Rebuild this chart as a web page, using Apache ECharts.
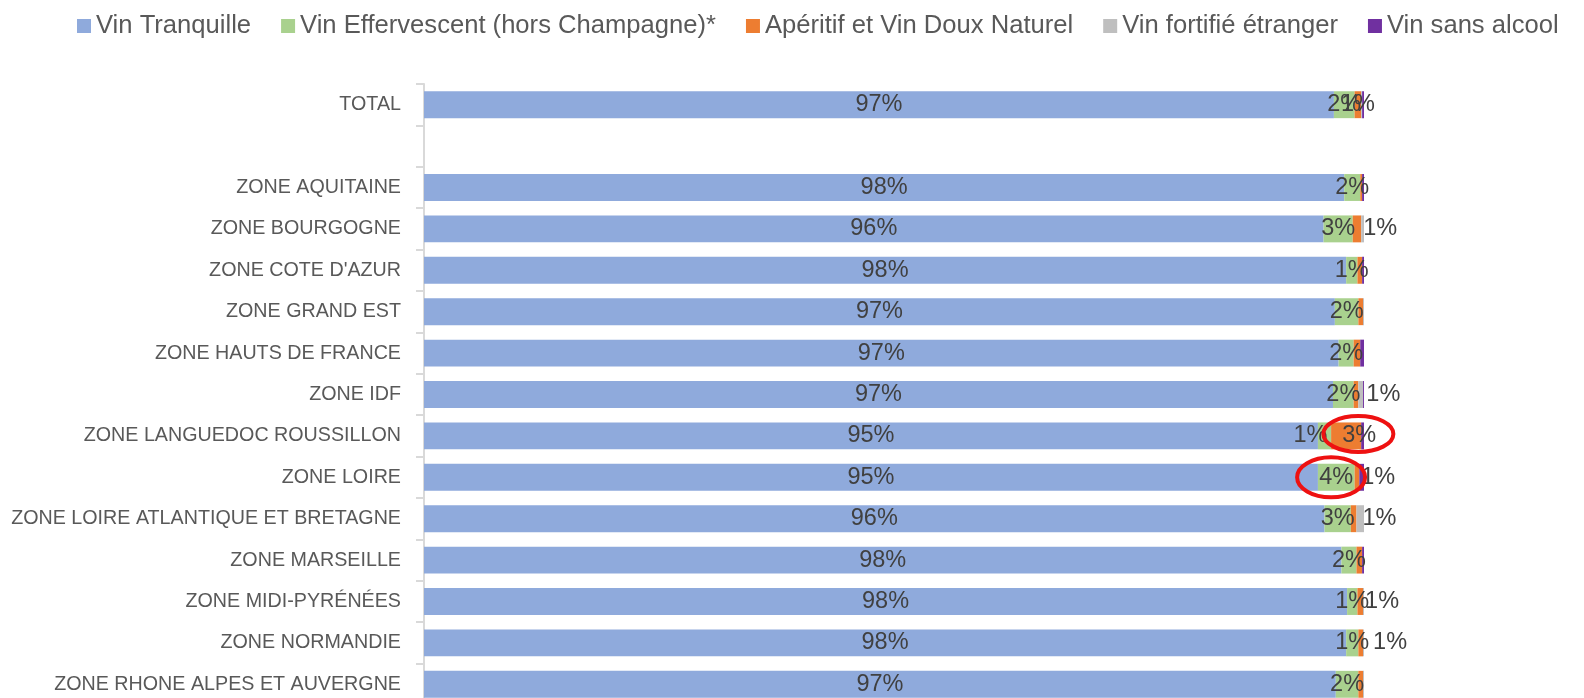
<!DOCTYPE html>
<html>
<head>
<meta charset="utf-8">
<script src="https://cdn.jsdelivr.net/npm/echarts@6/dist/echarts.min.js"></script>
<style>
html,body{margin:0;padding:0;background:#fff;}
#c{width:1584px;height:698px;}
</style>
</head>
<body>
<div id="c"></div>
<script>
// ---- DATA ----
const categories = ['TOTAL', '', 'ZONE AQUITAINE', 'ZONE BOURGOGNE', "ZONE COTE D'AZUR", 'ZONE GRAND EST',
  'ZONE HAUTS DE FRANCE', 'ZONE IDF', 'ZONE LANGUEDOC ROUSSILLON', 'ZONE LOIRE',
  'ZONE LOIRE ATLANTIQUE ET BRETAGNE', 'ZONE MARSEILLE', 'ZONE MIDI-PYRÉNÉES', 'ZONE NORMANDIE',
  'ZONE RHONE ALPES ET AUVERGNE'];
const seriesNames = ['Vin Tranquille', 'Vin Effervescent (hors Champagne)*', 'Apéritif et Vin Doux Naturel',
  'Vin fortifié étranger', 'Vin sans alcool'];
const tranquille   = [96.8, null, 97.9, 95.7, 98.1, 96.9, 97.3, 96.7, 95.1, 95.1, 95.8, 97.6, 98.2, 98.1, 97.0];
const effervescent = [2.2, null, 1.7, 3.1, 1.2, 2.5, 1.6, 2.2, 1.4, 3.9, 2.8, 1.6, 1.1, 1.3, 2.4];
const aperitif     = [0.7, null, 0.2, 0.9, 0.5, 0.5, 0.7, 0.5, 3.2, 0.5, 0.6, 0.6, 0.6, 0.5, 0.5];
const fortifie     = [0.1, null, 0.0, 0.3, 0.0, 0.1, 0.0, 0.5, 0.0, 0.0, 0.8, 0.0, 0.1, 0.1, 0.1];
const sansAlcool   = [0.2, null, 0.2, 0.0, 0.2, 0.0, 0.4, 0.1, 0.3, 0.5, 0.0, 0.2, 0.0, 0.0, 0.0];
// data label texts as shown in the picture
const tranquilleLabels   = ['97%', '', '98%', '96%', '98%', '97%', '97%', '97%', '95%', '95%', '96%', '98%', '98%', '98%', '97%'];
const effervescentLabels = ['2%', '', '2%', '3%', '1%', '2%', '2%', '2%', '1%', '4%', '3%', '2%', '1%', '1%', '2%'];
const aperitifLabels     = ['1%', '', '', '1%', '', '', '', '1%', '3%', '1%', '1%', '', '1%', '1%', ''];
const fortifieLabels     = ['', '', '', '', '', '', '', '', '', '', '', '', '', '', ''];
const sansAlcoolLabels   = ['', '', '', '', '', '', '', '', '', '', '', '', '', '', ''];

// ---- LAYOUT / STYLE CONFIG ----
const colors = ['#8FAADC', '#A9D18E', '#ED7D31', '#BFBFBF', '#7030A0'];
const outsideLabelRows = ['ZONE BOURGOGNE', 'ZONE IDF', 'ZONE LOIRE', 'ZONE LOIRE ATLANTIQUE ET BRETAGNE',
  'ZONE MIDI-PYRÉNÉES', 'ZONE NORMANDIE'];
const labelNudges = {
  'ZONE LANGUEDOC ROUSSILLON': { 1: [-14, 0], 2: [13, 0] },
  'ZONE IDF': { 2: [6, 0] },
  'ZONE NORMANDIE': { 2: [8, 0] },
  'ZONE LOIRE ATLANTIQUE ET BRETAGNE': { 2: [4, 0] }
};
const annotations = [
  { cat: 'ZONE LANGUEDOC ROUSSILLON', at: 99.4, dy: -2, rx: 35, ry: 18 },
  { cat: 'ZONE LOIRE', at: 96.5, dy: 0, rx: 34, ry: 20 }
];

const values = [tranquille, effervescent, aperitif, fortifie, sansAlcool];
const labels = [tranquilleLabels, effervescentLabels, aperitifLabels, fortifieLabels, sansAlcoolLabels];
const FONT = '"Liberation Sans", Arial, sans-serif';

const series = seriesNames.map((name, s) => ({
  name, type: 'bar', stack: 'all', barCategoryGap: '35%',
  itemStyle: { color: colors[s] },
  emphasis: { disabled: true },
  data: values[s].map((v, i) => {
    const txt = labels[s][i];
    const item = { value: v };
    if (txt) {
      const cat = categories[i];
      const lab = { show: true, formatter: txt, position: 'inside' };
      if (s === 2 && outsideLabelRows.includes(cat)) {
        lab.position = 'right';
        lab.distance = 2;
      }
      const nudge = labelNudges[cat] && labelNudges[cat][s];
      if (nudge) lab.offset = nudge;
      item.label = lab;
    } else {
      item.label = { show: false };
    }
    return item;
  }),
  label: { fontFamily: FONT, fontSize: 23.5, color: '#404040' }
}));

const chart = echarts.init(document.getElementById('c'), null, { renderer: 'canvas' });
chart.setOption({
  animation: false,
  backgroundColor: '#fff',
  textStyle: { fontFamily: FONT },
  legend: {
    data: seriesNames, left: 72, top: 8, width: 3000, icon: 'rect', itemWidth: 14, itemHeight: 14, itemGap: 30,
    textStyle: { fontFamily: FONT, fontSize: 25.6, color: '#595959' }
  },
  grid: { left: 424, right: 220, top: 84, height: 621, containLabel: false, outerBoundsMode: 'none' },
  xAxis: { type: 'value', min: 0, max: 100, show: false },
  yAxis: {
    type: 'category', data: categories, inverse: true,
    axisLine: { show: true, lineStyle: { color: '#D9D9D9', width: 2 } },
    axisTick: { show: true, length: 8, lineStyle: { color: '#D9D9D9', width: 2 } },
    axisLabel: { fontFamily: FONT, fontSize: 19.7, color: '#595959', margin: 23 }
  },
  series
});

const graphics = annotations.map(a => {
  const p = chart.convertToPixel({ gridIndex: 0 }, [a.at, a.cat]);
  return { type: 'ellipse', shape: { cx: p[0], cy: p[1] + a.dy, rx: a.rx, ry: a.ry },
    style: { fill: 'none', stroke: '#EE1111', lineWidth: 4 }, z: 100 };
});
chart.setOption({ graphic: graphics });
</script>
</body>
</html>
